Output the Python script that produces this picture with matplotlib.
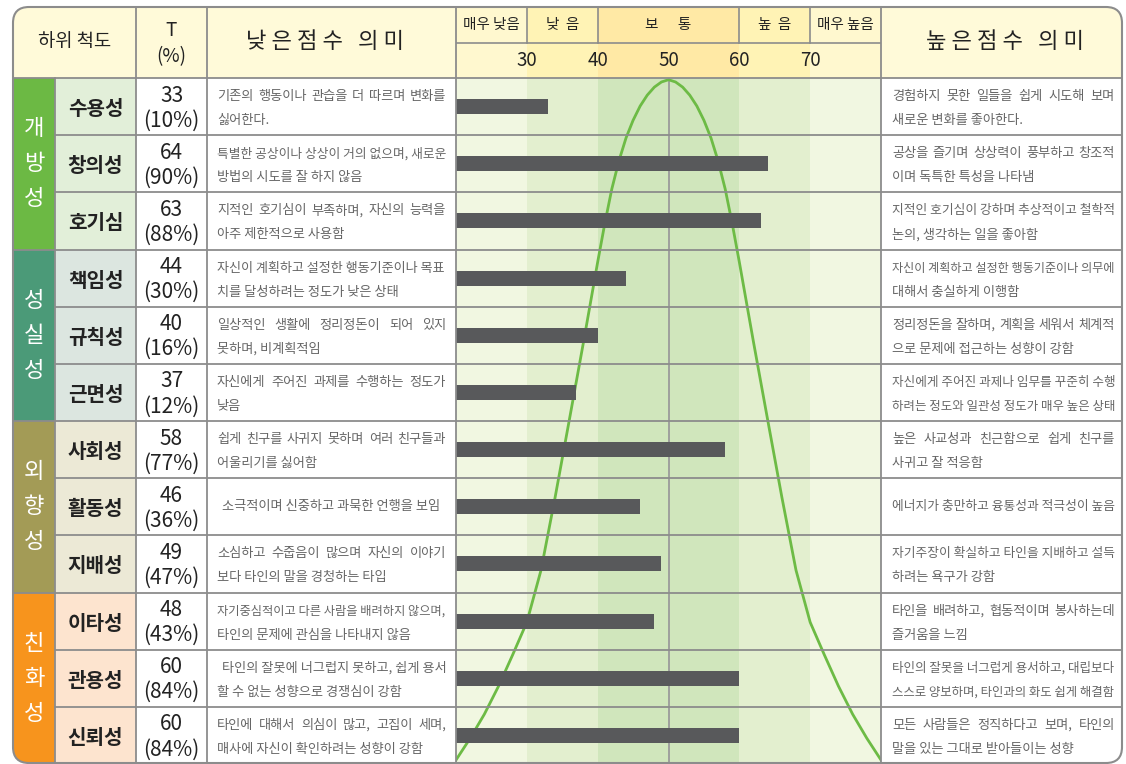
import matplotlib
matplotlib.use('Agg')
import matplotlib.pyplot as plt
from matplotlib.patches import Rectangle, FancyBboxPatch

plt.rcParams['font.family'] = ['Noto Sans CJK KR', 'DejaVu Sans']

# ---- data ----
groups = ['개방성', '성실성', '외향성', '친화성']
group_colors = ['#6cb944', '#4b9a78', '#a39b56', '#f7941d']
name_colors = ['#e2efd9', '#dce6e0', '#ece9d6', '#fde4cf']
scales = ['수용성', '창의성', '호기심', '책임성', '규칙성', '근면성',
          '사회성', '활동성', '지배성', '이타성', '관용성', '신뢰성']
t_scores = [33, 64, 63, 44, 40, 37, 58, 46, 49, 48, 60, 60]
percentiles = [10, 90, 88, 30, 16, 12, 77, 36, 47, 43, 84, 84]
low_text = [
    ['기존의 행동이나 관습을 더 따르며 변화를', '싫어한다.'],
    ['특별한 공상이나 상상이 거의 없으며, 새로운', '방법의 시도를 잘 하지 않음'],
    ['지적인 호기심이 부족하며, 자신의 능력을', '아주 제한적으로 사용함'],
    ['자신이 계획하고 설정한 행동기준이나 목표', '치를 달성하려는 정도가 낮은 상태'],
    ['일상적인 생활에 정리정돈이 되어 있지', '못하며, 비계획적임'],
    ['자신에게 주어진 과제를 수행하는 정도가', '낮음'],
    ['쉽게 친구를 사귀지 못하며 여러 친구들과', '어울리기를 싫어함'],
    [' 소극적이며 신중하고 과묵한 언행을 보임'],
    ['소심하고 수줍음이 많으며 자신의 이야기', '보다 타인의 말을 경청하는 타입'],
    ['자기중심적이고 다른 사람을 배려하지 않으며,', '타인의 문제에 관심을 나타내지 않음'],
    [' 타인의 잘못에 너그럽지 못하고, 쉽게 용서', '할 수 없는 성향으로 경쟁심이 강함'],
    ['타인에 대해서 의심이 많고, 고집이 세며,', '매사에 자신이 확인하려는 성향이 강함'],
]
high_text = [
    ['경험하지 못한 일들을 쉽게 시도해 보며', '새로운 변화를 좋아한다.'],
    ['공상을 즐기며 상상력이 풍부하고 창조적', '이며 독특한 특성을 나타냄'],
    ['지적인 호기심이 강하며 추상적이고 철학적', '논의, 생각하는 일을 좋아함'],
    ['자신이 계획하고 설정한 행동기준이나 의무에', '대해서 충실하게 이행함'],
    ['정리정돈을 잘하며, 계획을 세워서 체계적', '으로 문제에 접근하는 성향이 강함'],
    ['자신에게 주어진 과제나 임무를 꾸준히 수행', '하려는 정도와 일관성 정도가 매우 높은 상태'],
    ['높은 사교성과 친근함으로 쉽게 친구를', '사귀고 잘 적응함'],
    ['에너지가 충만하고 융통성과 적극성이 높음'],
    ['자기주장이 확실하고 타인을 지배하고 설득', '하려는 욕구가 강함'],
    ['타인을 배려하고, 협동적이며 봉사하는데', '즐거움을 느낌'],
    ['타인의 잘못을 너그럽게 용서하고, 대립보다', '스스로 양보하며, 타인과의 화도 쉽게 해결함'],
    ['모든 사람들은 정직하다고 보며, 타인의', '말을 있는 그대로 받아들이는 성향'],
]
levels = ['매우 낮음', '낮  음', '보      통', '높  음', '매우 높음']
level_edges = [20, 30, 40, 60, 70, 80]
header_colors = ['#fff8cf', '#fff3b5', '#ffe9a5', '#fff3b5', '#fff8cf']
band_colors = ['#f1f7e1', '#e3efcf', '#d0e6bc', '#e3efcf', '#f1f7e1']
ticks = [30, 40, 50, 60, 70]
# normal curve: T score -> depth in rows below the header
curve_t = [20, 22, 24, 26, 28, 30, 32, 34, 36, 38, 40, 41, 42, 43, 44, 45,
           46, 47, 48, 49, 50, 51, 52, 53, 54, 55, 56, 57, 58, 59, 60,
           62, 64, 66, 68, 70, 72, 74, 76, 78, 80]
curve_y = [11.93, 11.55, 11.13, 10.64, 10.09, 9.52, 8.61, 7.33, 5.98, 4.62,
           3.22, 2.55, 1.94, 1.45, 1.05, 0.74, 0.49, 0.30, 0.16, 0.07, 0.03,
           0.07, 0.16, 0.30, 0.49, 0.74, 1.05, 1.45, 1.94, 2.55, 3.22,
           4.62, 5.98, 7.33, 8.61, 9.52, 10.09, 10.64, 11.13, 11.55, 11.93]

# ---- layout (pixels) ----
W, H = 1126, 764
cols = [13, 55, 136, 207, 456, 881, 1122]
top, head_mid, head_bot, bot = 7, 42, 78, 763
rh = (764 - head_bot) / len(scales)
line_c = '#8c8c8c'
txt_c = '#222222'
gray_txt = '#666666'

fig = plt.figure(figsize=(W / 100, H / 100), dpi=100)
renderer = fig.canvas.get_renderer()

bg = fig.add_axes([0, 0, 1, 1])
bg.set_xlim(0, W)
bg.set_ylim(H, 0)
bg.axis('off')

frame = FancyBboxPatch((cols[0], top), cols[-1] - cols[0], bot - top,
                       boxstyle='round,pad=0,rounding_size=16',
                       fc='none', ec='none')
bg.add_patch(frame)


def cell(x0, y0, x1, y1, color):
    r = Rectangle((x0, y0), x1 - x0, y1 - y0, fc=color, ec='none')
    bg.add_patch(r)
    r.set_clip_path(frame)


def line_text(x0, x1, y, s, size, justify):
    # plain left-aligned line, shrunk if it would overflow
    indent = 5 if s.startswith(' ') else 0
    s = s.strip()
    t = bg.text(x0 + indent, y, s, fontsize=size, va='center', color=gray_txt)
    w = t.get_window_extent(renderer).width
    if w > x1 - x0 - indent:
        t.set_fontsize(size * (x1 - x0 - indent) / w)
        return
    if not justify:
        return
    # justified line: spread the words over the cell width
    words = s.split(' ')
    t.remove()
    parts = [bg.text(0, y, wd, fontsize=size, va='center', color=gray_txt)
             for wd in words]
    widths = [p.get_window_extent(renderer).width for p in parts]
    gap = (x1 - x0 - indent - sum(widths)) / max(len(words) - 1, 1)
    x = x0 + indent
    for p, wd in zip(parts, widths):
        p.set_x(x)
        x += wd + gap


# header cells
cell(cols[0], top, cols[4], head_bot, '#fffad9')
cell(cols[5], top, cols[6], head_bot, '#fffad9')
bg.text((cols[0] + cols[2]) / 2, 41, '하위 척도', ha='center', va='center',
        fontsize=13.5, fontweight='medium', color=txt_c)
bg.text((cols[2] + cols[3]) / 2, 31, 'T', ha='center', va='center',
        fontsize=13.5, color=txt_c)
bg.text((cols[2] + cols[3]) / 2, 57, '(%)', ha='center', va='center',
        fontsize=13.5, color=txt_c)
bg.text((cols[3] + cols[4]) / 2 - 7, 41, '낮 은 점 수   의 미', ha='center',
        va='center', fontsize=16, fontweight='medium', color=txt_c)
bg.text((cols[5] + cols[6]) / 2 + 4, 41, '높 은 점 수   의 미', ha='center',
        va='center', fontsize=16, fontweight='medium', color=txt_c)

# body cells
for g in range(len(groups)):
    y0 = head_bot + g * 3 * rh
    cell(cols[0], y0, cols[1], y0 + 3 * rh, group_colors[g])
    cell(cols[1], y0, cols[2], y0 + 3 * rh, name_colors[g])
    yc = y0 + 1.5 * rh
    for k, ch in enumerate(groups[g]):
        bg.text((cols[0] + cols[1]) / 2, yc + (k - 1) * 35, ch, ha='center',
                va='center', fontsize=16, color='white')

for i, name in enumerate(scales):
    yc = head_bot + (i + 0.5) * rh
    bg.text((cols[1] + cols[2]) / 2, yc + 2, name, ha='center', va='center',
            fontsize=14.5, fontweight='bold', color=txt_c)
    bg.text((cols[2] + cols[3]) / 2, yc - 11, str(t_scores[i]), ha='center',
            va='center', fontsize=15, color=txt_c)
    bg.text((cols[2] + cols[3]) / 2, yc + 14, '(%d%%)' % percentiles[i],
            ha='center', va='center', fontsize=15, color=txt_c)
    for x0, x1, lines in ((cols[3] + 10, cols[4] - 10, low_text[i]),
                          (cols[5] + 11, cols[6] - 7, high_text[i])):
        if len(lines) == 1:
            line_text(x0, x1, yc, lines[0], 9.5, False)
        else:
            line_text(x0, x1, yc - 10, lines[0], 9.5, True)
            line_text(x0, x1, yc + 14, lines[1], 9.5, False)

# ---- chart header ----
hx = cols[4] / W
hw = (cols[5] - cols[4]) / W
hd = fig.add_axes([hx, (H - head_bot) / H, hw, (head_bot - top) / H])
hd.set_xlim(20, 80)
hd.set_ylim(2, 0)
hd.axis('off')
for k in range(len(levels)):
    a, b = level_edges[k], level_edges[k + 1]
    hd.axvspan(a, b, color=header_colors[k], lw=0)
    hd.text((a + b) / 2, 0.5, levels[k], ha='center', va='center',
            fontsize=10.5, color=txt_c)
for k in level_edges[1:-1]:
    hd.plot([k, k], [0, 1], color=line_c, lw=1.2)
hd.axhline(1, color=line_c, lw=1.2)
for t in ticks:
    hd.text(t, 1.52, str(t), ha='center', va='center', fontsize=13.5,
            color=txt_c)

# ---- chart body ----
ax = fig.add_axes([hx, (H - 764) / H, hw, (764 - head_bot) / H])
ax.set_xlim(20, 80)
ax.set_ylim(len(scales), 0)
ax.axis('off')
for k in range(len(band_colors)):
    ax.axvspan(level_edges[k], level_edges[k + 1], color=band_colors[k], lw=0)
ax.axvline(50, color='#9a9a9a', lw=1.3)
ax.plot(curve_t, curve_y, color='#6dbb45', lw=2.0, zorder=3)
ax.barh([i + 0.5 for i in range(len(scales))], [t - 20 for t in t_scores],
        left=20, height=0.26, color='#58595b', zorder=4)

# ---- grid lines on top ----
ov = fig.add_axes([0, 0, 1, 1], zorder=5)
ov.set_xlim(0, W)
ov.set_ylim(H, 0)
ov.axis('off')
ov.patch.set_alpha(0)
for i in range(1, len(scales)):
    y = head_bot + i * rh
    x0 = cols[0] if i % 3 == 0 else cols[1]
    ov.plot([x0, cols[-1]], [y, y], color=line_c, lw=1.3)
ov.plot([cols[0], cols[-1]], [head_bot, head_bot], color=line_c, lw=1.3)
ov.plot([cols[1], cols[1]], [head_bot, bot], color=line_c, lw=1.3)
for c in cols[2:-1]:
    ov.plot([c, c], [top, bot], color=line_c, lw=1.3)
ov.add_patch(FancyBboxPatch((cols[0], top), cols[-1] - cols[0], bot - top,
                            boxstyle='round,pad=0,rounding_size=16',
                            fc='none', ec=line_c, lw=1.5))

fig.savefig('out.png', dpi=100)
